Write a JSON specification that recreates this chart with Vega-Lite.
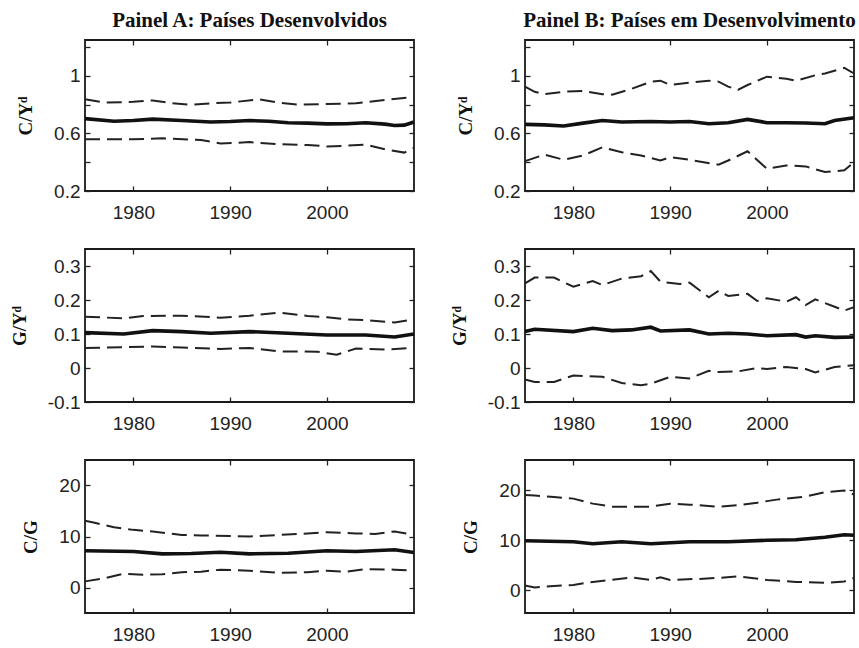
{
  "$schema": "https://vega.github.io/schema/vega-lite/v6.json",
  "autosize": {"type": "none"},
  "padding": {"left": 85, "top": 40, "right": 774, "bottom": 608},
  "background": "white",
  "config": {
    "view": {"stroke": "#1a1a1a", "strokeWidth": 1.8},
    "axis": {
      "domain": false, "grid": false, "tickSize": -5, "tickColor": "#222", "tickWidth": 1.3,
      "labelFont": "Liberation Sans", "labelFontSize": 19, "labelColor": "#222", "labelPadding": 10,
      "labelFlush": false, "labelOverlap": false, "labelBound": false,
      "titleFont": "Liberation Serif", "titleFontWeight": "bold", "titleFontSize": 19, "titleColor": "#111", "titlePadding": 18
    },
    "axisBottom": {"labelPadding": 17},
    "title": {"font": "Liberation Serif", "fontWeight": "bold", "fontSize": 21, "color": "#111", "offset": 7, "frame": "group", "anchor": "middle"},
    "line": {"color": "#111"}
  },
  "spacing": {"row": 58, "column": 111},
  "bounds": "flush",
  "columns": 2,
  "datasets": {
    "A1": [
      {"s":"m","x":1975,"v":0.703},{"s":"m","x":1978,"v":0.685},{"s":"m","x":1980,"v":0.69},{"s":"m","x":1982,"v":0.70},{"s":"m","x":1985,"v":0.69},{"s":"m","x":1988,"v":0.68},{"s":"m","x":1990,"v":0.683},{"s":"m","x":1992,"v":0.69},{"s":"m","x":1994,"v":0.685},{"s":"m","x":1996,"v":0.675},{"s":"m","x":1998,"v":0.672},{"s":"m","x":2000,"v":0.667},{"s":"m","x":2002,"v":0.668},{"s":"m","x":2004,"v":0.675},{"s":"m","x":2006,"v":0.665},{"s":"m","x":2007,"v":0.655},{"s":"m","x":2008,"v":0.658},{"s":"m","x":2009,"v":0.68},
      {"s":"u","x":1975,"v":0.838},{"s":"u","x":1977,"v":0.815},{"s":"u","x":1980,"v":0.82},{"s":"u","x":1982,"v":0.83},{"s":"u","x":1984,"v":0.81},{"s":"u","x":1986,"v":0.80},{"s":"u","x":1988,"v":0.81},{"s":"u","x":1990,"v":0.815},{"s":"u","x":1993,"v":0.838},{"s":"u","x":1995,"v":0.815},{"s":"u","x":1997,"v":0.80},{"s":"u","x":2000,"v":0.805},{"s":"u","x":2003,"v":0.81},{"s":"u","x":2006,"v":0.833},{"s":"u","x":2009,"v":0.855},
      {"s":"l","x":1975,"v":0.56},{"s":"l","x":1980,"v":0.56},{"s":"l","x":1983,"v":0.566},{"s":"l","x":1987,"v":0.555},{"s":"l","x":1989,"v":0.53},{"s":"l","x":1992,"v":0.54},{"s":"l","x":1995,"v":0.525},{"s":"l","x":1998,"v":0.52},{"s":"l","x":2000,"v":0.51},{"s":"l","x":2002,"v":0.515},{"s":"l","x":2004,"v":0.522},{"s":"l","x":2006,"v":0.49},{"s":"l","x":2008,"v":0.467},{"s":"l","x":2009,"v":0.50}
    ],
    "B1": [
      {"s":"m","x":1975,"v":0.663},{"s":"m","x":1977,"v":0.66},{"s":"m","x":1979,"v":0.652},{"s":"m","x":1981,"v":0.672},{"s":"m","x":1983,"v":0.69},{"s":"m","x":1985,"v":0.68},{"s":"m","x":1988,"v":0.683},{"s":"m","x":1990,"v":0.68},{"s":"m","x":1992,"v":0.683},{"s":"m","x":1994,"v":0.668},{"s":"m","x":1996,"v":0.675},{"s":"m","x":1998,"v":0.698},{"s":"m","x":2000,"v":0.675},{"s":"m","x":2002,"v":0.675},{"s":"m","x":2004,"v":0.673},{"s":"m","x":2006,"v":0.668},{"s":"m","x":2007,"v":0.69},{"s":"m","x":2009,"v":0.71},
      {"s":"u","x":1975,"v":0.926},{"s":"u","x":1976,"v":0.89},{"s":"u","x":1977,"v":0.873},{"s":"u","x":1979,"v":0.89},{"s":"u","x":1981,"v":0.896},{"s":"u","x":1983,"v":0.873},{"s":"u","x":1984,"v":0.87},{"s":"u","x":1986,"v":0.91},{"s":"u","x":1988,"v":0.96},{"s":"u","x":1989,"v":0.967},{"s":"u","x":1990,"v":0.937},{"s":"u","x":1992,"v":0.953},{"s":"u","x":1994,"v":0.967},{"s":"u","x":1995,"v":0.96},{"s":"u","x":1996,"v":0.926},{"s":"u","x":1997,"v":0.903},{"s":"u","x":1998,"v":0.937},{"s":"u","x":2000,"v":0.995},{"s":"u","x":2002,"v":0.98},{"s":"u","x":2003,"v":0.967},{"s":"u","x":2005,"v":1.005},{"s":"u","x":2006,"v":1.017},{"s":"u","x":2008,"v":1.056},{"s":"u","x":2009,"v":1.017},
      {"s":"l","x":1975,"v":0.408},{"s":"l","x":1977,"v":0.453},{"s":"l","x":1979,"v":0.417},{"s":"l","x":1981,"v":0.447},{"s":"l","x":1983,"v":0.504},{"s":"l","x":1985,"v":0.47},{"s":"l","x":1987,"v":0.447},{"s":"l","x":1989,"v":0.412},{"s":"l","x":1990,"v":0.435},{"s":"l","x":1992,"v":0.417},{"s":"l","x":1995,"v":0.383},{"s":"l","x":1996,"v":0.412},{"s":"l","x":1998,"v":0.476},{"s":"l","x":2000,"v":0.355},{"s":"l","x":2002,"v":0.378},{"s":"l","x":2004,"v":0.371},{"s":"l","x":2006,"v":0.332},{"s":"l","x":2008,"v":0.344},{"s":"l","x":2009,"v":0.40}
    ],
    "A2": [
      {"s":"m","x":1975,"v":0.104},{"s":"m","x":1979,"v":0.10},{"s":"m","x":1982,"v":0.11},{"s":"m","x":1985,"v":0.107},{"s":"m","x":1988,"v":0.102},{"s":"m","x":1992,"v":0.107},{"s":"m","x":1996,"v":0.102},{"s":"m","x":2000,"v":0.097},{"s":"m","x":2004,"v":0.097},{"s":"m","x":2007,"v":0.091},{"s":"m","x":2009,"v":0.10},
      {"s":"u","x":1975,"v":0.151},{"s":"u","x":1979,"v":0.146},{"s":"u","x":1981,"v":0.153},{"s":"u","x":1985,"v":0.154},{"s":"u","x":1989,"v":0.148},{"s":"u","x":1992,"v":0.154},{"s":"u","x":1995,"v":0.163},{"s":"u","x":1998,"v":0.153},{"s":"u","x":2000,"v":0.149},{"s":"u","x":2002,"v":0.143},{"s":"u","x":2004,"v":0.141},{"s":"u","x":2007,"v":0.134},{"s":"u","x":2009,"v":0.143},
      {"s":"l","x":1975,"v":0.059},{"s":"l","x":1982,"v":0.063},{"s":"l","x":1985,"v":0.06},{"s":"l","x":1989,"v":0.056},{"s":"l","x":1992,"v":0.059},{"s":"l","x":1995,"v":0.049},{"s":"l","x":1999,"v":0.048},{"s":"l","x":2001,"v":0.039},{"s":"l","x":2003,"v":0.057},{"s":"l","x":2006,"v":0.054},{"s":"l","x":2009,"v":0.06}
    ],
    "B2": [
      {"s":"m","x":1975,"v":0.107},{"s":"m","x":1976,"v":0.114},{"s":"m","x":1980,"v":0.107},{"s":"m","x":1982,"v":0.117},{"s":"m","x":1984,"v":0.11},{"s":"m","x":1986,"v":0.112},{"s":"m","x":1988,"v":0.12},{"s":"m","x":1989,"v":0.109},{"s":"m","x":1992,"v":0.112},{"s":"m","x":1994,"v":0.10},{"s":"m","x":1996,"v":0.102},{"s":"m","x":1998,"v":0.10},{"s":"m","x":2000,"v":0.095},{"s":"m","x":2003,"v":0.098},{"s":"m","x":2004,"v":0.091},{"s":"m","x":2005,"v":0.095},{"s":"m","x":2007,"v":0.09},{"s":"m","x":2009,"v":0.091},
      {"s":"u","x":1975,"v":0.249},{"s":"u","x":1976,"v":0.266},{"s":"u","x":1978,"v":0.266},{"s":"u","x":1980,"v":0.239},{"s":"u","x":1982,"v":0.256},{"s":"u","x":1983,"v":0.244},{"s":"u","x":1985,"v":0.263},{"s":"u","x":1987,"v":0.27},{"s":"u","x":1988,"v":0.285},{"s":"u","x":1989,"v":0.254},{"s":"u","x":1991,"v":0.247},{"s":"u","x":1992,"v":0.251},{"s":"u","x":1994,"v":0.208},{"s":"u","x":1995,"v":0.227},{"s":"u","x":1996,"v":0.212},{"s":"u","x":1998,"v":0.218},{"s":"u","x":1999,"v":0.197},{"s":"u","x":2000,"v":0.205},{"s":"u","x":2002,"v":0.195},{"s":"u","x":2003,"v":0.208},{"s":"u","x":2004,"v":0.185},{"s":"u","x":2005,"v":0.202},{"s":"u","x":2007,"v":0.18},{"s":"u","x":2008,"v":0.169},{"s":"u","x":2009,"v":0.179},
      {"s":"l","x":1975,"v":-0.034},{"s":"l","x":1976,"v":-0.041},{"s":"l","x":1978,"v":-0.041},{"s":"l","x":1980,"v":-0.022},{"s":"l","x":1983,"v":-0.026},{"s":"l","x":1985,"v":-0.044},{"s":"l","x":1987,"v":-0.051},{"s":"l","x":1988,"v":-0.046},{"s":"l","x":1990,"v":-0.026},{"s":"l","x":1992,"v":-0.031},{"s":"l","x":1994,"v":-0.008},{"s":"l","x":1995,"v":-0.012},{"s":"l","x":1997,"v":-0.01},{"s":"l","x":1999,"v":0.0},{"s":"l","x":2000,"v":-0.003},{"s":"l","x":2002,"v":0.003},{"s":"l","x":2004,"v":-0.003},{"s":"l","x":2005,"v":-0.013},{"s":"l","x":2007,"v":0.003},{"s":"l","x":2009,"v":0.008}
    ],
    "A3": [
      {"s":"m","x":1975,"v":7.2},{"s":"m","x":1980,"v":7.05},{"s":"m","x":1983,"v":6.6},{"s":"m","x":1986,"v":6.67},{"s":"m","x":1989,"v":6.9},{"s":"m","x":1992,"v":6.6},{"s":"m","x":1996,"v":6.73},{"s":"m","x":2000,"v":7.2},{"s":"m","x":2003,"v":7.05},{"s":"m","x":2007,"v":7.4},{"s":"m","x":2009,"v":6.86},
      {"s":"u","x":1975,"v":13.1},{"s":"u","x":1976,"v":12.7},{"s":"u","x":1978,"v":11.8},{"s":"u","x":1980,"v":11.3},{"s":"u","x":1982,"v":11.0},{"s":"u","x":1985,"v":10.3},{"s":"u","x":1987,"v":10.2},{"s":"u","x":1990,"v":10.1},{"s":"u","x":1992,"v":10.0},{"s":"u","x":1995,"v":10.3},{"s":"u","x":1998,"v":10.6},{"s":"u","x":2000,"v":10.85},{"s":"u","x":2003,"v":10.6},{"s":"u","x":2005,"v":10.5},{"s":"u","x":2007,"v":11.0},{"s":"u","x":2009,"v":10.3},
      {"s":"l","x":1975,"v":1.2},{"s":"l","x":1977,"v":1.8},{"s":"l","x":1979,"v":2.7},{"s":"l","x":1981,"v":2.5},{"s":"l","x":1983,"v":2.6},{"s":"l","x":1985,"v":3.0},{"s":"l","x":1987,"v":3.1},{"s":"l","x":1989,"v":3.5},{"s":"l","x":1992,"v":3.3},{"s":"l","x":1995,"v":2.9},{"s":"l","x":1998,"v":3.0},{"s":"l","x":2000,"v":3.3},{"s":"l","x":2002,"v":3.1},{"s":"l","x":2004,"v":3.6},{"s":"l","x":2007,"v":3.5},{"s":"l","x":2009,"v":3.3}
    ],
    "B3": [
      {"s":"m","x":1975,"v":9.9},{"s":"m","x":1980,"v":9.7},{"s":"m","x":1982,"v":9.3},{"s":"m","x":1985,"v":9.7},{"s":"m","x":1988,"v":9.3},{"s":"m","x":1992,"v":9.7},{"s":"m","x":1996,"v":9.7},{"s":"m","x":2000,"v":10.0},{"s":"m","x":2003,"v":10.1},{"s":"m","x":2006,"v":10.6},{"s":"m","x":2008,"v":11.1},{"s":"m","x":2009,"v":11.0},
      {"s":"u","x":1975,"v":19.0},{"s":"u","x":1976,"v":18.9},{"s":"u","x":1978,"v":18.6},{"s":"u","x":1980,"v":18.3},{"s":"u","x":1982,"v":17.3},{"s":"u","x":1984,"v":16.7},{"s":"u","x":1986,"v":16.7},{"s":"u","x":1988,"v":16.7},{"s":"u","x":1990,"v":17.3},{"s":"u","x":1992,"v":17.1},{"s":"u","x":1995,"v":16.7},{"s":"u","x":1997,"v":17.0},{"s":"u","x":1999,"v":17.5},{"s":"u","x":2001,"v":18.1},{"s":"u","x":2004,"v":18.7},{"s":"u","x":2006,"v":19.6},{"s":"u","x":2008,"v":19.9},{"s":"u","x":2009,"v":19.1},
      {"s":"l","x":1975,"v":1.0},{"s":"l","x":1976,"v":0.6},{"s":"l","x":1978,"v":0.9},{"s":"l","x":1980,"v":1.1},{"s":"l","x":1982,"v":1.7},{"s":"l","x":1984,"v":2.1},{"s":"l","x":1986,"v":2.6},{"s":"l","x":1988,"v":2.1},{"s":"l","x":1989,"v":2.6},{"s":"l","x":1990,"v":2.1},{"s":"l","x":1993,"v":2.3},{"s":"l","x":1995,"v":2.5},{"s":"l","x":1997,"v":2.8},{"s":"l","x":2000,"v":2.1},{"s":"l","x":2003,"v":1.7},{"s":"l","x":2006,"v":1.5},{"s":"l","x":2008,"v":1.8},{"s":"l","x":2009,"v":2.5}
    ]
  },
  "concat": [
    {
      "width": 329, "height": 151, "data": {"name": "A1"},
      "title": {"text": "Painel A: Países Desenvolvidos"},
      "layer": [
        {"transform": [{"filter": "datum.s != 'm'"}], "mark": {"type": "line", "strokeDash": [15, 7], "strokeWidth": 2, "color": "#222"},
         "encoding": {"x": {"field": "x", "type": "quantitative", "scale": {"domain": [1975, 2009], "nice": false, "zero": false}, "axis": {"orient": "bottom", "values": [1980, 1990, 2000], "format": "d", "title": null}},
                      "y": {"field": "v", "type": "quantitative", "scale": {"domain": [0.2, 1.25], "nice": false, "zero": false}, "axis": {"orient": "left", "values": [0.2, 0.4, 0.6, 0.8, 1, 1.2], "labelExpr": "round(datum.value*10)%4==2 ? format(datum.value, '~g') : ''", "title": "C/Yᵈ"}},
                      "detail": {"field": "s"}}},
        {"transform": [{"filter": "datum.s == 'm'"}], "mark": {"type": "line", "strokeWidth": 3.6, "color": "#111"},
         "encoding": {"x": {"field": "x", "type": "quantitative", "axis": {"orient": "top", "values": [1980, 1990, 2000], "labels": false, "title": null}},
                      "y": {"field": "v", "type": "quantitative", "axis": {"orient": "right", "values": [0.2, 0.4, 0.6, 0.8, 1, 1.2], "labels": false, "title": null}}}}
      ],
      "resolve": {"axis": {"x": "independent", "y": "independent"}}
    },
    {
      "width": 329, "height": 151, "data": {"name": "B1"},
      "title": {"text": "Painel B: Países em Desenvolvimento"},
      "layer": [
        {"transform": [{"filter": "datum.s != 'm'"}], "mark": {"type": "line", "strokeDash": [15, 7], "strokeWidth": 2, "color": "#222"},
         "encoding": {"x": {"field": "x", "type": "quantitative", "scale": {"domain": [1975, 2009], "nice": false, "zero": false}, "axis": {"orient": "bottom", "values": [1980, 1990, 2000], "format": "d", "title": null}},
                      "y": {"field": "v", "type": "quantitative", "scale": {"domain": [0.2, 1.25], "nice": false, "zero": false}, "axis": {"orient": "left", "values": [0.2, 0.4, 0.6, 0.8, 1, 1.2], "labelExpr": "round(datum.value*10)%4==2 ? format(datum.value, '~g') : ''", "title": "C/Yᵈ"}},
                      "detail": {"field": "s"}}},
        {"transform": [{"filter": "datum.s == 'm'"}], "mark": {"type": "line", "strokeWidth": 3.6, "color": "#111"},
         "encoding": {"x": {"field": "x", "type": "quantitative", "axis": {"orient": "top", "values": [1980, 1990, 2000], "labels": false, "title": null}},
                      "y": {"field": "v", "type": "quantitative", "axis": {"orient": "right", "values": [0.2, 0.4, 0.6, 0.8, 1, 1.2], "labels": false, "title": null}}}}
      ],
      "resolve": {"axis": {"x": "independent", "y": "independent"}}
    },
    {
      "width": 329, "height": 153, "data": {"name": "A2"},
      "layer": [
        {"transform": [{"filter": "datum.s != 'm'"}], "mark": {"type": "line", "strokeDash": [15, 7], "strokeWidth": 2, "color": "#222"},
         "encoding": {"x": {"field": "x", "type": "quantitative", "scale": {"domain": [1975, 2009], "nice": false, "zero": false}, "axis": {"orient": "bottom", "values": [1980, 1990, 2000], "format": "d", "title": null}},
                      "y": {"field": "v", "type": "quantitative", "scale": {"domain": [-0.1, 0.35], "nice": false, "zero": false}, "axis": {"orient": "left", "values": [-0.1, 0, 0.1, 0.2, 0.3], "labelExpr": "replace(format(datum.value, '~g'), '−', '-')", "title": "G/Yᵈ"}},
                      "detail": {"field": "s"}}},
        {"transform": [{"filter": "datum.s == 'm'"}], "mark": {"type": "line", "strokeWidth": 3.6, "color": "#111"},
         "encoding": {"x": {"field": "x", "type": "quantitative", "axis": {"orient": "top", "values": [1980, 1990, 2000], "labels": false, "title": null}},
                      "y": {"field": "v", "type": "quantitative", "axis": {"orient": "right", "values": [-0.1, 0, 0.1, 0.2, 0.3], "labels": false, "title": null}}}}
      ],
      "resolve": {"axis": {"x": "independent", "y": "independent"}}
    },
    {
      "width": 329, "height": 153, "data": {"name": "B2"},
      "layer": [
        {"transform": [{"filter": "datum.s != 'm'"}], "mark": {"type": "line", "strokeDash": [15, 7], "strokeWidth": 2, "color": "#222"},
         "encoding": {"x": {"field": "x", "type": "quantitative", "scale": {"domain": [1975, 2009], "nice": false, "zero": false}, "axis": {"orient": "bottom", "values": [1980, 1990, 2000], "format": "d", "title": null}},
                      "y": {"field": "v", "type": "quantitative", "scale": {"domain": [-0.1, 0.35], "nice": false, "zero": false}, "axis": {"orient": "left", "values": [-0.1, 0, 0.1, 0.2, 0.3], "labelExpr": "replace(format(datum.value, '~g'), '−', '-')", "title": "G/Yᵈ"}},
                      "detail": {"field": "s"}}},
        {"transform": [{"filter": "datum.s == 'm'"}], "mark": {"type": "line", "strokeWidth": 3.6, "color": "#111"},
         "encoding": {"x": {"field": "x", "type": "quantitative", "axis": {"orient": "top", "values": [1980, 1990, 2000], "labels": false, "title": null}},
                      "y": {"field": "v", "type": "quantitative", "axis": {"orient": "right", "values": [-0.1, 0, 0.1, 0.2, 0.3], "labels": false, "title": null}}}}
      ],
      "resolve": {"axis": {"x": "independent", "y": "independent"}}
    },
    {
      "width": 329, "height": 153, "data": {"name": "A3"},
      "layer": [
        {"transform": [{"filter": "datum.s != 'm'"}], "mark": {"type": "line", "strokeDash": [15, 7], "strokeWidth": 2, "color": "#222"},
         "encoding": {"x": {"field": "x", "type": "quantitative", "scale": {"domain": [1975, 2009], "nice": false, "zero": false}, "axis": {"orient": "bottom", "values": [1980, 1990, 2000], "format": "d", "title": null}},
                      "y": {"field": "v", "type": "quantitative", "scale": {"domain": [-5, 25], "nice": false, "zero": false}, "axis": {"orient": "left", "values": [0, 10, 20], "format": "d", "title": "C/G"}},
                      "detail": {"field": "s"}}},
        {"transform": [{"filter": "datum.s == 'm'"}], "mark": {"type": "line", "strokeWidth": 3.6, "color": "#111"},
         "encoding": {"x": {"field": "x", "type": "quantitative", "axis": {"orient": "top", "values": [1980, 1990, 2000], "labels": false, "title": null}},
                      "y": {"field": "v", "type": "quantitative", "axis": {"orient": "right", "values": [0, 10, 20], "labels": false, "title": null}}}}
      ],
      "resolve": {"axis": {"x": "independent", "y": "independent"}}
    },
    {
      "width": 329, "height": 153, "data": {"name": "B3"},
      "layer": [
        {"transform": [{"filter": "datum.s != 'm'"}], "mark": {"type": "line", "strokeDash": [15, 7], "strokeWidth": 2, "color": "#222"},
         "encoding": {"x": {"field": "x", "type": "quantitative", "scale": {"domain": [1975, 2009], "nice": false, "zero": false}, "axis": {"orient": "bottom", "values": [1980, 1990, 2000], "format": "d", "title": null}},
                      "y": {"field": "v", "type": "quantitative", "scale": {"domain": [-4.5, 26], "nice": false, "zero": false}, "axis": {"orient": "left", "values": [0, 10, 20], "format": "d", "title": "C/G"}},
                      "detail": {"field": "s"}}},
        {"transform": [{"filter": "datum.s == 'm'"}], "mark": {"type": "line", "strokeWidth": 3.6, "color": "#111"},
         "encoding": {"x": {"field": "x", "type": "quantitative", "axis": {"orient": "top", "values": [1980, 1990, 2000], "labels": false, "title": null}},
                      "y": {"field": "v", "type": "quantitative", "axis": {"orient": "right", "values": [0, 10, 20], "labels": false, "title": null}}}}
      ],
      "resolve": {"axis": {"x": "independent", "y": "independent"}}
    }
  ]
}
